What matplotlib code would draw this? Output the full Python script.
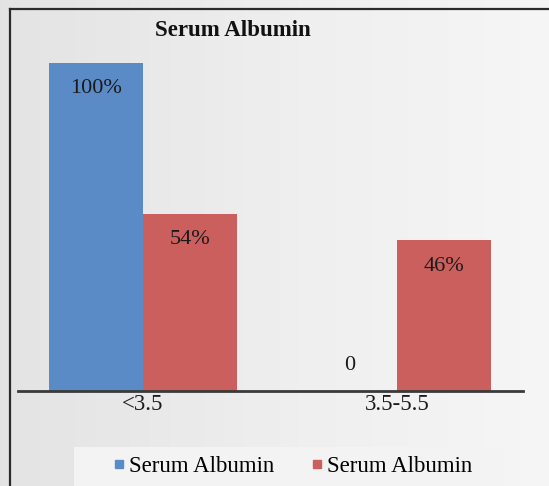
import numpy as np
import matplotlib.pyplot as plt
from matplotlib.lines import Line2D
from matplotlib.patches import Rectangle

plt.rcParams['font.family'] = ['Liberation Serif', 'DejaVu Serif']

# chart values (percent)
categories = ['<3.5', '3.5-5.5']
series_a = [100, 0]
series_b = [54, 46]
labels_a = ['100%', '0']
labels_b = ['54%', '46%']
series_names = ['Serum Albumin', 'Serum Albumin']

blue = '#5b8bc6'
red = '#cb5f5d'

W, H = 549, 486
fig = plt.figure(figsize=(W / 100, H / 100), dpi=100)

# soft grey gradient behind everything
bg = fig.add_axes([0, 0, 1, 1], zorder=-10)
grad = np.linspace(0, 1, 256).reshape(1, -1)
bg.imshow(grad, extent=[0, 1, 0, 1], aspect='auto', cmap='Greys_r',
          vmin=-7.0, vmax=1.7)
bg.set_axis_off()

# dark frame on the left and top
fig.add_artist(Line2D([9.5 / W, 9.5 / W], [0, 1 - 9.5 / H], color='#2b2b2b',
                      lw=1.6, transform=fig.transFigure))
fig.add_artist(Line2D([9.5 / W, 1], [1 - 9.5 / H, 1 - 9.5 / H], color='#2b2b2b',
                      lw=1.6, transform=fig.transFigure))

ax = fig.add_axes([17.5 / W, 1 - 391 / H, (523 - 17.5) / W, (391 - 63) / H])
ax.patch.set_alpha(0)

x = np.arange(len(categories))
w = 0.37
bars_a = ax.bar(x - w / 2, series_a, w, color=blue, zorder=2)
bars_b = ax.bar(x + w / 2, series_b, w, color=red, zorder=2)

for bars, labs in [(bars_a, labels_a), (bars_b, labels_b)]:
    for b, lab in zip(bars, labs):
        h = b.get_height()
        off = -26 if h > 0 else 25
        ax.annotate(lab, (b.get_x() + b.get_width() / 2, h),
                    xytext=(0, off), textcoords='offset pixels',
                    ha='center', va='center', fontsize=16, color='#1a1a1a')

ax.set_xlim(-0.494, 1.496)
ax.set_ylim(0, 100)
ax.set_yticks([])
ax.set_xticks(x)
ax.set_xticklabels(categories, fontsize=16.5, color='#1a1a1a')
ax.tick_params(axis='x', length=0, pad=2.5)
for s in ['top', 'right', 'left']:
    ax.spines[s].set_visible(False)
ax.spines['bottom'].set_color('#3a3a3a')
ax.spines['bottom'].set_linewidth(2)
ax.spines['bottom'].set_zorder(3)

fig.text(233 / W, 1 - 30 / H, 'Serum Albumin', ha='center', va='center',
         fontsize=16.5, fontweight='bold', color='#111111')

# legend with its own lighter panel
fig.add_artist(Rectangle((74 / W, 0), (504 - 74) / W, (486 - 447) / H,
                         transform=fig.transFigure, facecolor='#f3f3f3',
                         edgecolor='none', zorder=0))
handles = [Line2D([], [], marker='s', ls='none', color=c, markersize=6)
           for c in (blue, red)]
fig.legend(handles, series_names, loc='center', ncol=2,
           bbox_to_anchor=(293 / W, 1 - 466 / H), frameon=False,
           fontsize=16.5, handlelength=0.5, handletextpad=0.2,
           columnspacing=1.6)

fig.savefig('out.png', dpi=100)
